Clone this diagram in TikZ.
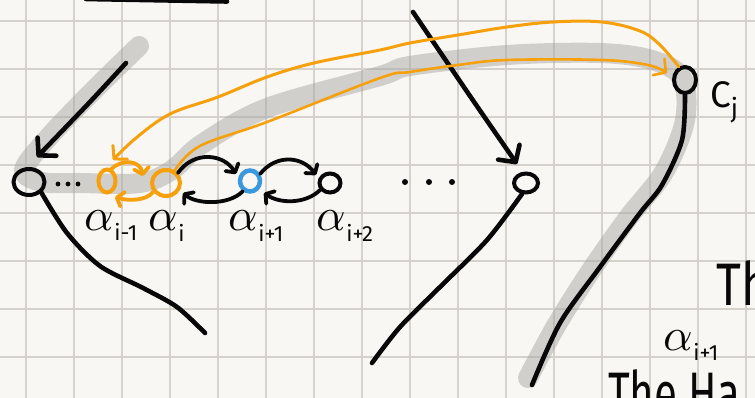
\documentclass[tikz,border=0pt]{standalone}
\usepackage{fontspec}
\newfontfamily\handfont{Fira Sans}
\usetikzlibrary{arrows.meta,shapes.geometric}
\definecolor{paper}{RGB}{249,247,243}
\definecolor{gridline}{RGB}{214,209,202}
\definecolor{marker}{RGB}{168,168,166}
\definecolor{ink}{RGB}{8,8,8}
\definecolor{amber}{RGB}{245,160,12}
\definecolor{sky}{RGB}{58,152,222}
% alpha with a small hand-written subscript
\newcommand\alab[1]{\scalebox{4.6}{$\alpha$}\kern0.5pt\raisebox{-10pt}{\handfont\fontsize{22}{22}\selectfont #1}}
\begin{document}
\begin{tikzpicture}[x=1pt,y=-1pt,
  vertex/.style={ellipse, draw=ink, line width=4pt, inner sep=0pt},
  inkline/.style={draw=ink, line width=4.6pt, line cap=round, line join=round},
  swapline/.style={draw=ink, line width=3.8pt, line cap=round,
    -{Straight Barb[length=6pt,width=15pt,round]}},
  amberline/.style={draw=amber, line width=3pt, line cap=round, line join=round},
  amberswap/.style={draw=amber, line width=3.8pt, line cap=round,
    -{Straight Barb[length=6pt,width=15pt,round]}},
  bigtip/.style={-{Straight Barb[length=12pt,width=26pt,round]}},
  label/.style={anchor=base west, inner sep=0pt, text=ink}]

\useasboundingbox (0,0) rectangle (755,398);
\clip (0,0) rectangle (755,398);
\fill[paper] (0,0) rectangle (755,398);

% squared paper
\foreach \gx in {26,74,...,746} \draw[gridline, line width=1.5pt] (\gx,0) -- (\gx,398);
\foreach \gy in {21,69,...,357} \draw[gridline, line width=1.5pt] (0,\gy) -- (755,\gy);

% grey marker path
\draw[marker, opacity=0.5, line width=20pt, line cap=round, line join=round]
  plot[smooth, tension=0.55] coordinates {(139,46) (92,92) (48,138) (24,170) (42,182) (80,183) (140,183)
    (172,170) (202,144) (267,108) (380,76) (410,66) (507,55) (600,53) (652,60) (682,78)
    (685,120) (664,172) (628,218) (590,272) (556,326) (528,378)};

% stroke at the top edge
\draw[inkline] (86,-1) -- (227,1.5);

% vertices
\node[vertex, minimum width=31pt, minimum height=26pt] (n0) at (29,182) {};
\node[vertex, draw=amber, minimum width=17pt, minimum height=23pt] (nA) at (107,181) {};
\node[vertex, draw=amber, minimum width=28pt, minimum height=26pt] (nB) at (166,183) {};
\node[vertex, draw=sky, line width=4.5pt, minimum width=20pt, minimum height=21pt] (nC) at (250,181) {};
\node[vertex, minimum width=21pt, minimum height=19pt] (nD) at (330,183) {};
\node[vertex, minimum width=24pt, minimum height=19pt] (nE) at (526,183) {};
\node[vertex, minimum width=22pt, minimum height=26pt] (nF) at (685,80) {};

% dots
\foreach \dx in {58,68,78} \fill[ink] (\dx,184) circle (2.4pt);
\foreach \dx in {405,429,452} \fill[ink] (\dx,182) circle (3pt);

% incoming arrows
\coordinate (s0) at (126,63);
\coordinate (t0) at (37,157);
\draw[inkline, bigtip] plot[smooth] coordinates {(s0) (88,104) (t0)};
\coordinate (sE) at (413,12);
\coordinate (tE) at (517,164);
\draw[inkline, bigtip] plot[smooth] coordinates {(sE) (470,96) (tE)};

% outgoing strokes
\coordinate (e0) at (205,333);
\draw[inkline] plot[smooth] coordinates {(n0.south east) (67,233) (100,266) (143,288) (177,307) (e0)};
\coordinate (eE) at (372,363);
\draw[inkline] plot[smooth] coordinates {(nE.250) (487,240) (440,287) (400,327) (eE)};
\coordinate (eF) at (532,385);
\draw[inkline] plot[smooth] coordinates {(nF.south) (682,140) (662,185) (640,213) (600,267) (560,323) (eF)};

% swaps along the chain
\draw[swapline] (nB.40) .. controls (194,150) and (224,154) .. (236,174);
\draw[swapline] (nC.235) .. controls (228,206) and (196,204) .. (183,193);
\draw[swapline] (nC.35) .. controls (276,154) and (302,156) .. (316,175);
\draw[swapline] (nD.215) .. controls (306,204) and (280,204) .. (264,193);
\draw[amberswap] (nA.70) .. controls (122,159) and (140,160) .. (143,176);
\draw[amberswap] (nB.215) .. controls (146,201) and (128,201) .. (115,197);

% long amber arcs
\coordinate (tA) at (113,160);
\draw[amberline, -{Straight Barb[length=9pt,width=20pt,round]}]
  plot[smooth, tension=0.6] coordinates {(nF.115) (660,45) (640,31) (602,22) (553,22) (507,27) (458,35)
    (410,43) (380,50) (314,63) (267,77) (218,97) (170,114) (136,138) (tA)};
\coordinate (tF) at (667,73);
\draw[amberline, line width=2.6pt, -{Straight Barb[length=9pt,width=20pt,round]}]
  plot[smooth, tension=0.6] coordinates {(nB.55) (200,146) (267,122) (380,78) (410,72) (458,65)
    (507,60) (602,60) (648,65) (tF)};

% labels
\node[label] (lA) at (84,230) {\alab{i-1}};
\node[label] (lB) at (148,231) {\alab{i}};
\node[label] (lC) at (228,231) {\alab{i+1}};
\node[label] (lD) at (316,231) {\alab{i+2}};
\node[label] (lF) at (710,108) {\handfont\fontsize{37}{37}\selectfont C\raisebox{-10pt}{\fontsize{26}{26}\selectfont j}};
\node[label] (lG) at (716,305) {\handfont\fontsize{60}{60}\selectfont\scalebox{0.8}[1]{Th}};
\node[label] (lH) at (663,350) {\alab{i+1}};
\node[label] (lI) at (608,414) {\handfont\fontsize{60}{60}\selectfont\scalebox{0.7}[1]{The Ha}};
\end{tikzpicture}
\end{document}
